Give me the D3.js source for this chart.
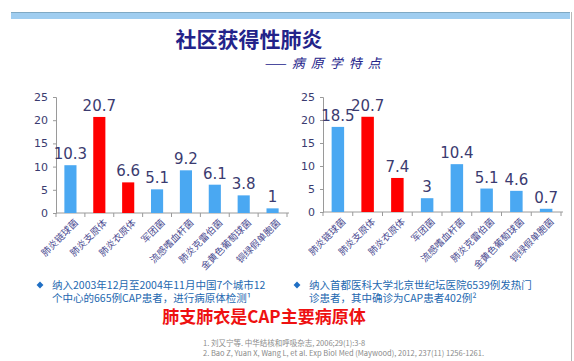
<!DOCTYPE html>
<html>
<head>
<meta charset="utf-8">
<script src="https://cdn.jsdelivr.net/npm/d3@7"></script>
<style>
  body { margin: 0; background: #fff; }
  svg { display: block; font-family: "Noto Sans CJK SC", "Noto Sans", sans-serif; }
</style>
</head>
<body>
<svg width="574" height="361"></svg>
<script>
"use strict";
const categories = ["肺炎链球菌", "肺炎支原体", "肺炎衣原体", "军团菌", "流感嗜血杆菌", "肺炎克雷伯菌", "金黄色葡萄球菌", "铜绿假单胞菌"];
const leftValues = [10.3, 20.7, 6.6, 5.1, 9.2, 6.1, 3.8, 1];
const rightValues = [18.5, 20.7, 7.4, 3, 10.4, 5.1, 4.6, 0.7];
const highlighted = ["肺炎支原体", "肺炎衣原体"];
const yTicks = [0, 5, 10, 15, 20, 25];

const svg = d3.select("svg");
const textColor = "#3b3b70";

// header band and slide edge
svg.append("rect").attr("x", 11).attr("y", 12).attr("width", 559).attr("height", 7).attr("fill", "#9fcdf0");
svg.append("line").attr("x1", 11).attr("x2", 570).attr("y1", 12.5).attr("y2", 12.5).attr("stroke", "#7fa9c4");
svg.append("line").attr("x1", 571.5).attr("x2", 571.5).attr("y1", 12).attr("y2", 361).attr("stroke", "#b8b8b8");

svg.append("text")
    .attr("x", 249).attr("y", 47)
    .attr("text-anchor", "middle")
    .style("font-size", "21px").style("font-weight", "bold")
    .style("fill", "#23238a")
    .text("社区获得性肺炎");
svg.append("text")
    .attr("x", 264).attr("y", 68)
    .style("font-size", "13px").style("font-style", "italic")
    .style("letter-spacing", "6px")
    .style("fill", "#23238a")
    .text("——病原学特点");

function drawChart(values, x0, x1, yZero, yTop) {
    const x = d3.scaleBand().domain(categories).range([x0, x1]).paddingInner(0.58).paddingOuter(0.29);
    const y = d3.scaleLinear().domain([0, 25]).range([yZero, yTop]);
    const g = svg.append("g");

    g.append("g")
        .attr("transform", `translate(${x0},0)`)
        .call(d3.axisLeft(y).tickValues(yTicks).tickSize(3).tickPadding(5))
        .call(a => a.select(".domain").attr("stroke", "#9a9a9a"))
        .call(a => a.selectAll(".tick line").attr("stroke", "#9a9a9a"))
        .call(a => a.selectAll("text").style("font-size", "11px").style("fill", textColor).style("font-family", "DejaVu Sans"));

    const step = x.step();
    const xAxis = g.append("g").attr("transform", `translate(0,${yZero})`);
    xAxis.append("line").attr("x1", x0).attr("x2", x1 + 2).attr("stroke", "#9a9a9a");
    xAxis.selectAll(".sep")
        .data(d3.range(categories.length + 1))
        .enter().append("line")
        .attr("x1", i => x0 + i * step).attr("x2", i => x0 + i * step)
        .attr("y1", 0).attr("y2", 4)
        .attr("stroke", "#9a9a9a");
    xAxis.selectAll(".lab")
        .data(categories)
        .enter().append("text")
        .attr("transform", d => `translate(${x(d) + x.bandwidth() / 2 + 6},${8}) rotate(-45)`)
        .attr("text-anchor", "end")
        .attr("dy", "0.35em")
        .style("font-size", "9.5px")
        .style("fill", "#4a4a90")
        .text(d => d);

    g.selectAll("rect.bar")
        .data(values)
        .enter().append("rect")
        .attr("x", (d, i) => x(categories[i]))
        .attr("width", x.bandwidth())
        .attr("y", d => y(d))
        .attr("height", d => yZero - y(d))
        .attr("fill", (d, i) => highlighted.includes(categories[i]) ? "#ff0000" : "#4aa8f2");

    g.selectAll("text.val")
        .data(values)
        .enter().append("text")
        .attr("x", (d, i) => x(categories[i]) + x.bandwidth() / 2)
        .attr("y", d => y(d) - 6)
        .attr("text-anchor", "middle")
        .style("font-size", "15px")
        .style("font-family", "DejaVu Sans")
        .style("fill", textColor)
        .text(d => d);
}

drawChart(leftValues, 56, 287, 213, 97);
drawChart(rightValues, 323, 561, 212, 97);

const noteColor = "#2468b0";
function bullet(x, y, lines) {
    svg.append("path")
        .attr("d", d3.symbol(d3.symbolDiamond2, 30)())
        .attr("transform", `translate(${x},${y - 4})`)
        .attr("fill", "#1f6fc4");
    const t = svg.append("text")
        .attr("x", x + 12).attr("y", y)
        .style("font-size", "10.5px").style("fill", noteColor);
    lines.forEach((s, i) => {
        t.append("tspan").attr("x", x + 12).attr("dy", i ? 12.5 : 0).text(s);
    });
}
bullet(40, 289, ["纳入2003年12月至2004年11月中国7个城市12", "个中心的665例CAP患者，进行病原体检测¹"]);
bullet(297, 289, ["纳入首都医科大学北京世纪坛医院6539例发热门", "诊患者，其中确诊为CAP患者402例²"]);

svg.append("text")
    .attr("x", 264).attr("y", 323)
    .attr("text-anchor", "middle")
    .style("font-size", "17px").style("font-weight", "bold")
    .style("fill", "#ee1111")
    .text("肺支肺衣是CAP主要病原体");

const refs = ["1.  刘又宁等. 中华结核和呼吸杂志, 2006;29(1):3-8", "2.  Bao Z, Yuan X, Wang L, et al. Exp Biol Med (Maywood), 2012, 237(11) 1256-1261."];
refs.forEach((t, i) => {
    svg.append("text")
        .attr("x", 203).attr("y", 346 + i * 10)
        .style("font-size", "7.5px").style("fill", "#8a8a8a")
        .text(t);
});
</script>
</body>
</html>
